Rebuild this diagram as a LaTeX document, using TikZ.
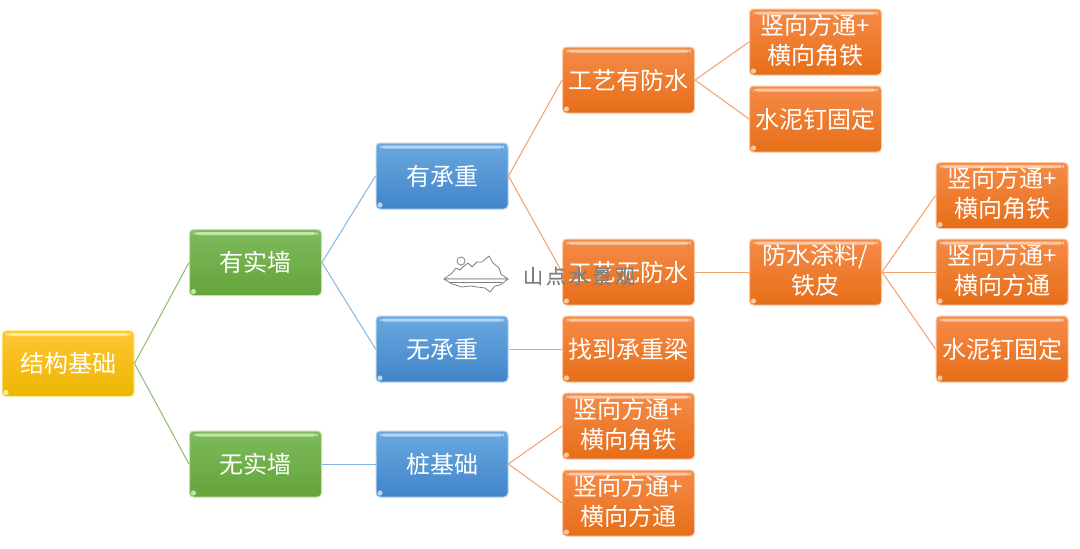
\documentclass[tikz,border=0pt]{standalone}
\usepackage{fontspec}
\setmainfont{Noto Sans CJK SC}
\newfontfamily\wmfont[FakeBold=0.6]{Noto Sans CJK SC}
\definecolor{yT}{HTML}{FFC535}\definecolor{yB}{HTML}{EDB700}\definecolor{yL}{HTML}{FFEE99}
\definecolor{gT}{HTML}{7DBB5C}\definecolor{gB}{HTML}{64A43A}\definecolor{gL}{HTML}{C2E5A6}\definecolor{gS}{HTML}{8DBE6C}
\definecolor{bT}{HTML}{69A8DF}\definecolor{bB}{HTML}{4185CA}\definecolor{bL}{HTML}{B5D5F0}\definecolor{bS}{HTML}{85B4E2}
\definecolor{oT}{HTML}{F58B48}\definecolor{oB}{HTML}{E76E18}\definecolor{oL}{HTML}{FBC9A5}\definecolor{oS}{HTML}{F4A06A}
\tikzset{
  x=1pt,y=-1pt,
  nodebase/.style n args={3}{draw=#3,line width=1pt,rounded corners=4pt,top color=#1,bottom color=#2,
    minimum width=132pt,minimum height=66pt,inner sep=0pt,align=center,text=white,
    font=\fontsize{24}{30}\selectfont,
    execute at begin node={\rule{0pt}{25pt}},
    execute at end node={\rule[-6.2pt]{0pt}{6.2pt}},
    path picture={
      \fill[#3] ([xshift=4pt,yshift=-2.5pt]path picture bounding box.north west) rectangle ([xshift=-4pt,yshift=-5.5pt]path picture bounding box.north east);
      \fill[#3] ([xshift=4pt,yshift=4pt]path picture bounding box.south west) circle (2.6pt);
    }},
  ybox/.style={nodebase={yT}{yB}{yL}},
  gbox/.style={nodebase={gT}{gB}{gL}},
  bbox/.style={nodebase={bT}{bB}{bL}},
  obox/.style={nodebase={oT}{oB}{oL}},
  gline/.style={draw=gS,line width=1pt},
  bline/.style={draw=bS,line width=1pt},
  oline/.style={draw=oS,line width=1pt},
  wm/.style={draw=black!50,fill=white,line width=.8pt,line join=round},
  wmtext/.style={text=black!50,font=\wmfont\fontsize{20}{22}\selectfont,inner sep=0pt},
}
\begin{document}
\begin{tikzpicture}
\useasboundingbox (0,0) rectangle (1080,549);
\fill[white] (0,0) rectangle (1080,549);
\node[ybox] (root) at (68,363.5) {结构基础};
\node[gbox] (w1) at (255.5,262.5) {有实墙};
\node[gbox] (w2) at (255.5,464) {无实墙};
\node[bbox] (c1) at (442,176) {有承重};
\node[bbox] (c2) at (442,349) {无承重};
\node[bbox] (c3) at (442,464) {桩基础};
\node[obox] (p1) at (628.5,80) {工艺有防水};
\node[obox] (p2) at (628.5,272) {工艺无防水};
\node[obox] (p3) at (628.5,349) {找到承重梁};
\node[obox] (p4) at (628.5,426) {竖向方通+\\横向角铁};
\node[obox] (p5) at (628.5,503) {竖向方通+\\横向方通};
\node[obox] (q1) at (815.5,42) {竖向方通+\\横向角铁};
\node[obox] (q2) at (815.5,119) {水泥钉固定};
\node[obox] (q3) at (815.5,272) {防水涂料/\\铁皮};
\node[obox] (r1) at (1002,195.5) {竖向方通+\\横向角铁};
\node[obox] (r2) at (1002,272) {竖向方通+\\横向方通};
\node[obox] (r3) at (1002,349) {水泥钉固定};
\draw[gline] (root.east) -- (w1.west);
\draw[gline] (root.east) -- (w2.west);
\draw[bline] (w1.east) -- (c1.west);
\draw[bline] (w1.east) -- (c2.west);
\draw[bline] (w2.east) -- (c3.west);
\draw[oline] (c1.east) -- (p1.west);
\draw[oline] (c1.east) -- (p2.west);
\draw[oline] (c2.east) -- (p3.west);
\draw[oline] (c3.east) -- (p4.west);
\draw[oline] (c3.east) -- (p5.west);
\draw[oline] (p1.east) -- (q1.west);
\draw[oline] (p1.east) -- (q2.west);
\draw[oline] (p2.east) -- (q3.west);
\draw[oline] (q3.east) -- (r1.west);
\draw[oline] (q3.east) -- (r2.west);
\draw[oline] (q3.east) -- (r3.west);
% watermark
\draw[wm] (444,279) -- (452,273) -- (456,268) -- (460,270) -- (464,266) -- (468,263) -- (472,267) -- (477,262) -- (482,262) -- (489,256) -- (493,263) -- (499,268) -- (501,274) -- (508,279) -- cycle;
\draw[wm] (461,261) circle (4);
\draw[wm] (444,279) -- (508,279) -- (500,285) -- (495,286) -- (490,292) -- (485,288) -- (470,286) -- (462,287) -- (452,284) -- cycle;
\draw[draw=black!50,line width=.8pt] (450,282) -- (502,282);
\node[wmtext,anchor=center] (wmk) at (579,276) {山\hspace{3pt}点\hspace{3pt}水\hspace{3pt}景\hspace{3pt}观};
\end{tikzpicture}
\end{document}
